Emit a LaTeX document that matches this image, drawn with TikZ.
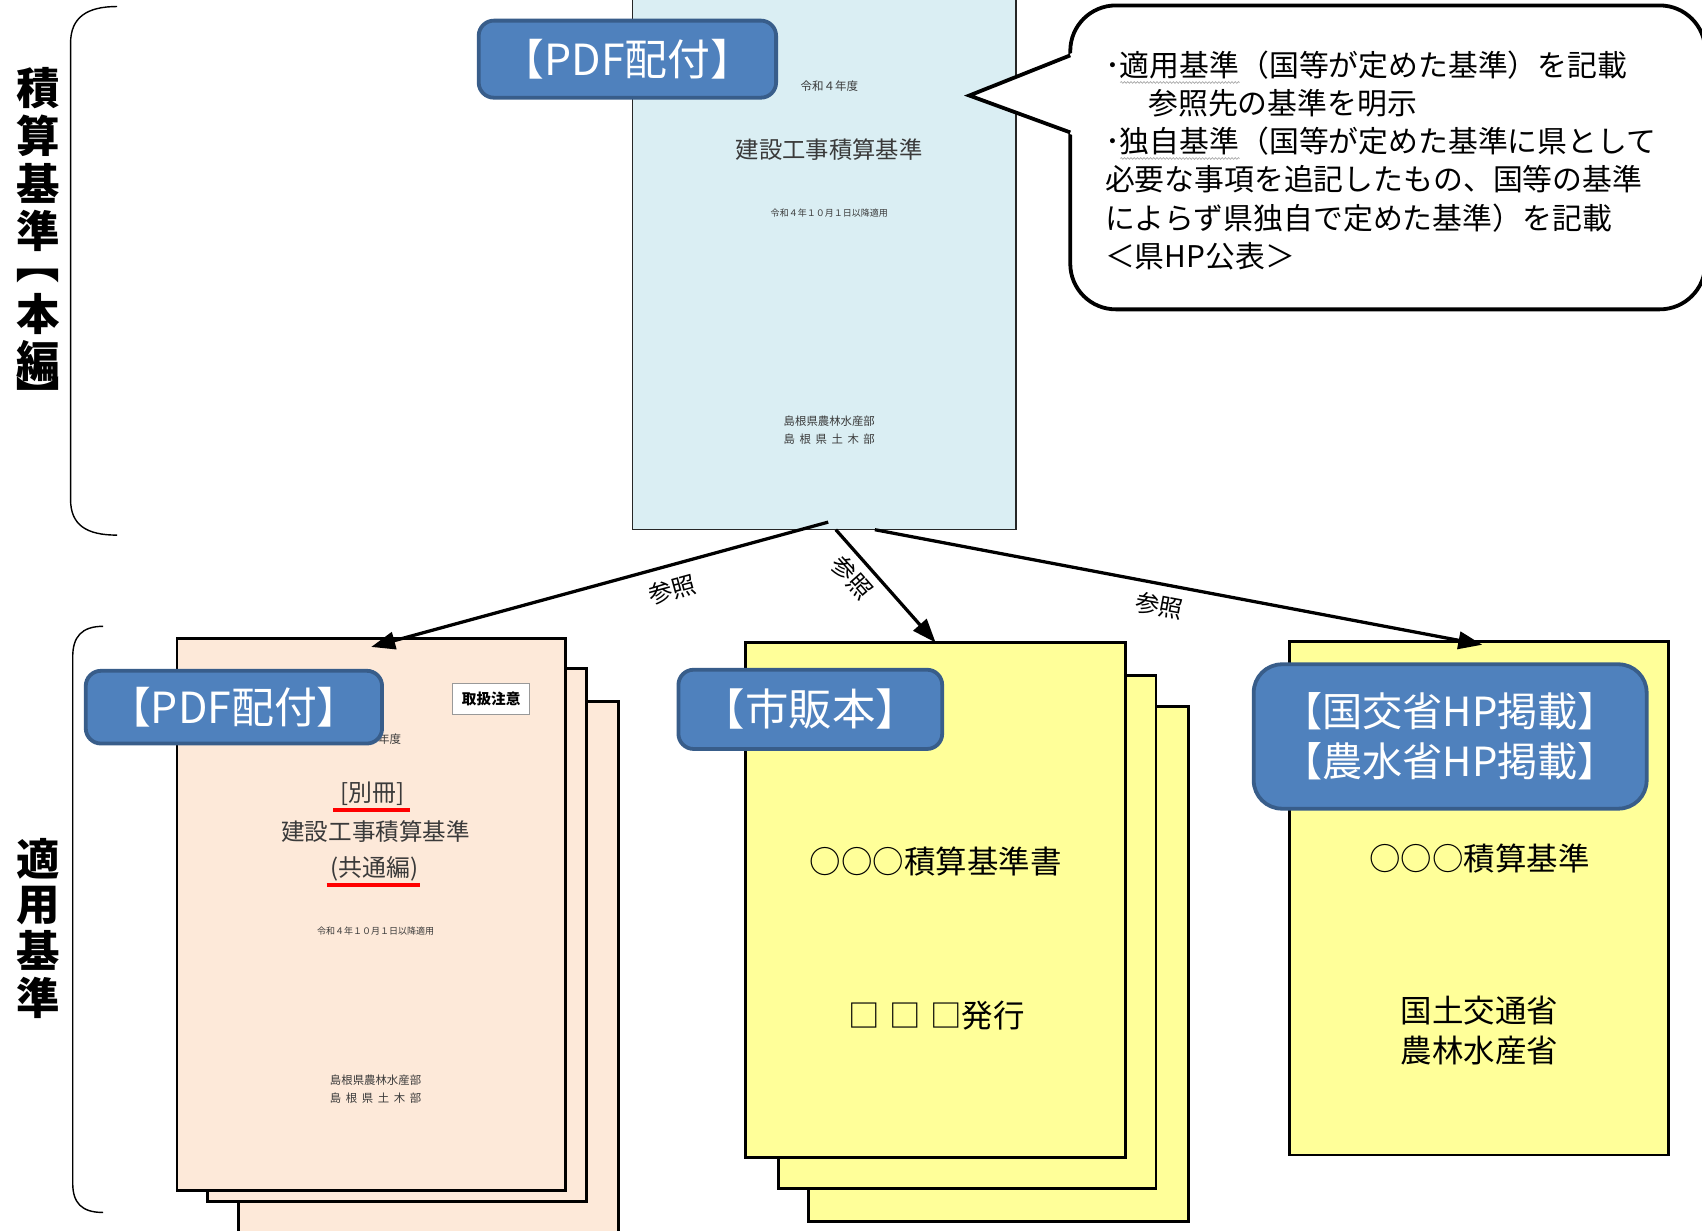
\documentclass[tikz,border=0pt]{standalone}
\usepackage{fontspec}
\usepackage{graphicx}
\setmainfont{Noto Sans CJK JP}
\usetikzlibrary{arrows.meta,decorations.pathmorphing}
\definecolor{coverblue}{HTML}{DAEEF3}
\definecolor{coverpeach}{HTML}{FDE9D9}
\definecolor{bookyellow}{HTML}{FFFF99}
\definecolor{tagfill}{HTML}{4F81BD}
\definecolor{tagline}{HTML}{385D8A}
\definecolor{covertext}{HTML}{3A3A3A}
\begin{document}
\begin{tikzpicture}[x=1pt,y=-1pt,
  every node/.style={inner sep=0pt,outer sep=0pt},
  sheet/.style={draw=black,line width=2.6pt,fill=#1},
  tagbox/.style={draw=tagline,line width=3.5pt,fill=tagfill,rounded corners=#1,text=white,align=center},
  tagbox/.default=14pt,
  covertxt/.style={text=covertext},
  vchar/.style={font=\bfseries\fontsize{40}{40}\selectfont},
  bracebar/.style={line width=1.3pt},
  refarrow/.style={-{Triangle[length=22pt,width=16pt]},line width=3pt},
  reflabel/.style={font=\fontsize{22}{22}\selectfont},
  ctext/.style={anchor=base west,font=\fontsize{27.5}{27.5}\selectfont},
  booktxt/.style={font=\fontsize{29}{29}\selectfont},
  redline/.style={red,line width=3.5pt},
  wavy/.style={gray!70,line width=0.6pt,decorate,decoration={snake,amplitude=0.8pt,segment length=3pt}}]
\clip (0,0) rectangle (1568,1134);
\fill[white] (0,0) rectangle (1568,1134);

% braces
\draw[bracebar] (108,6) .. controls (80,6) and (65,16) .. (65,40) -- (65,460) .. controls (65,484) and (80,493) .. (108,493);
\draw[bracebar] (95,577) .. controls (75,577) and (67,587) .. (67,605) -- (67,1090) .. controls (67,1108) and (75,1117) .. (95,1117);

% vertical labels
\foreach \ch/\yy [count=\i] in {積/81,算/125,基/169,準/213,本/289,編/333}
  \node[vchar] (va\i) at (35,\yy) {\ch};
\node[vchar] (vbra) at (35,242) {\rotatebox[origin=c]{-90}{【}};
\node[vchar] (vket) at (35,366) {\rotatebox[origin=c]{-90}{】}};
\foreach \ch/\yy [count=\i] in {適/791,用/834,基/876,準/919}
  \node[vchar] (vb\i) at (35,\yy) {\ch};

% top document
\node[draw=black!85,line width=1.2pt,fill=coverblue,minimum width=353pt,minimum height=518pt] (maindoc) at (759.5,229) {};
\node[covertxt,font=\fontsize{10.6}{10.6}\selectfont] (t1) at (764,79) {令和４年度};
\node[covertxt,font=\fontsize{21.5}{21.5}\selectfont] (t2) at (764,138) {建設工事積算基準};
\node[covertxt,font=\fontsize{8.3}{8.3}\selectfont] (t3) at (764,196) {令和４年１０月１日以降適用};
\node[covertxt,font=\fontsize{10.5}{10.5}\selectfont] (t4) at (764,388) {島根県農林水産部};
\node[covertxt,font=\fontsize{10.5}{10.5}\selectfont] (t5) at (764,405) {島\hspace{.4em}根\hspace{.4em}県\hspace{.4em}土\hspace{.4em}木\hspace{.4em}部};
\node[tagbox,minimum width=274pt,minimum height=71pt,font=\fontsize{39.5}{39.5}\selectfont] (tagtop) at (578,54.5) {【PDF配付】};

% callout
\draw[line width=3.5pt,fill=white,rounded corners=42pt] (986,5) rectangle (1571,285);
\fill[white] (893,88) -- (988.5,48.5) -- (988.5,124.5) -- cycle;
\draw[line width=3.5pt,line join=miter] (986,51) -- (893,88) -- (986,122);
\node[ctext] (c1) at (1018,70.5) {･適用基準（国等が定めた基準）を記載};
\node[ctext] (c2) at (1058,105.5) {参照先の基準を明示};
\node[ctext] (c3) at (1018,140.5) {･独自基準（国等が定めた基準に県として};
\node[ctext] (c4) at (1018,175.5) {必要な事項を追記したもの、国等の基準};
\node[ctext] (c5) at (1018,211.5) {によらず県独自で定めた基準）を記載};
\node[ctext] (c6) at (1018,246.5) {＜県HP公表＞};
\draw[wavy] (1032,76) -- (1142,76);
\draw[wavy] (1032,146) -- (1142,146);

% left stack
\node[sheet=coverpeach,minimum width=350pt,minimum height=554pt] (ls3) at (395,923) {};
\node[sheet=coverpeach,minimum width=349pt,minimum height=491pt] (ls2) at (365.5,861.5) {};
\node[sheet=coverpeach,minimum width=358pt,minimum height=509pt] (leftdoc) at (342,842.5) {};
\node[draw=gray!80,line width=0.8pt,fill=white,minimum width=71pt,minimum height=28pt,font=\bfseries\fontsize{13.5}{13.5}\selectfont] (warn) at (452.5,644) {取扱注意};
\node[covertxt,font=\fontsize{10.6}{10.6}\selectfont] (l1) at (343,681) {令和４年度};
\node[covertxt,font=\fontsize{22}{22}\selectfont] (l2) at (343,731) {[別冊]};
\draw[redline] (307,746) -- (378,746);
\node[covertxt,font=\fontsize{21.7}{21.7}\selectfont] (l3) at (346,766) {建設工事積算基準};
\node[covertxt,font=\fontsize{22}{22}\selectfont] (l4) at (345,800) {(共通編)};
\draw[redline] (301,815) -- (387,815);
\node[covertxt,font=\fontsize{8.3}{8.3}\selectfont] (l5) at (346,858) {令和４年１０月１日以降適用};
\node[covertxt,font=\fontsize{10.5}{10.5}\selectfont] (l6) at (346,995) {島根県農林水産部};
\node[covertxt,font=\fontsize{10.5}{10.5}\selectfont] (l7) at (346,1012) {島\hspace{.4em}根\hspace{.4em}県\hspace{.4em}土\hspace{.4em}木\hspace{.4em}部};
\node[tagbox,minimum width=273pt,minimum height=67pt,font=\fontsize{39.5}{39.5}\selectfont] (tagleft) at (215.5,651.5) {【PDF配付】};

% middle stack
\node[sheet=bookyellow,minimum width=350pt,minimum height=474pt] (ms3) at (920,888) {};
\node[sheet=bookyellow,minimum width=348pt,minimum height=473pt] (ms2) at (891,858.5) {};
\node[sheet=bookyellow,minimum width=350pt,minimum height=474pt] (middoc) at (862,829) {};
\node[booktxt] (m1) at (862,794) {○○○積算基準書};
\node[booktxt] (m2) at (863,936) {□\hspace{.3em}□\hspace{.3em}□発行};
\node[tagbox,minimum width=243pt,minimum height=73pt,font=\fontsize{40}{40}\selectfont] (tagmid) at (746.5,653.5) {【市販本】};

% right document
\node[sheet=bookyellow,minimum width=349pt,minimum height=473pt] (rightdoc) at (1362.5,827.5) {};
\node[booktxt] (r1) at (1363,791) {○○○積算基準};
\node[booktxt,align=center,font=\fontsize{29}{37}\selectfont] (r2) at (1363,949.5) {国土交通省\\農林水産省};
\node[tagbox=26pt,minimum width=362pt,minimum height=133pt,font=\fontsize{37}{46}\selectfont] (tagright) at (1336,678.5) {【国交省HP掲載】\\【農水省HP掲載】};

% reference arrows
\coordinate (s1) at (763,481);
\coordinate (s2) at (770,488);
\coordinate (s3) at (806,488);
\draw[refarrow] (s1) -- ([yshift=-8pt]leftdoc.north);
\draw[refarrow] (s2) -- (middoc.north);
\draw[refarrow] (s3) -- ([xshift=3pt,yshift=-3pt]rightdoc.north);
\node[reflabel,rotate=15.3] (lab1) at (619,543) {参照};
\node[reflabel,rotate=-48.6] (lab2) at (785,532) {参照};
\node[reflabel,rotate=-10.7] (lab3) at (1068,558) {参照};
\end{tikzpicture}
\end{document}
